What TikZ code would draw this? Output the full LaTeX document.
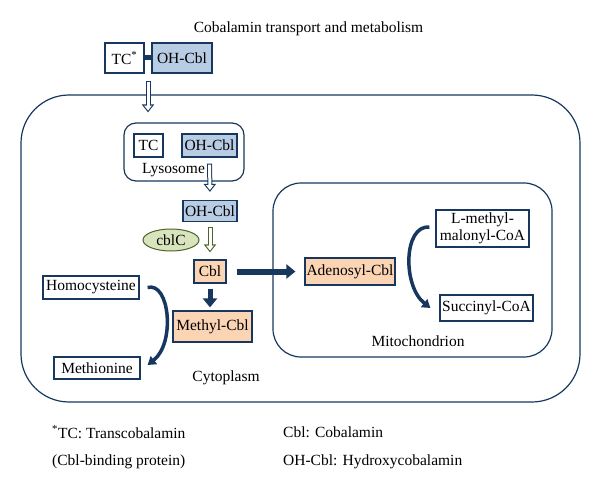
\documentclass[tikz,border=0pt]{standalone}
\usepackage{fontspec}
\setmainfont{Liberation Serif}
\usetikzlibrary{arrows.meta, shapes.geometric}
\definecolor{navy}{RGB}{23,55,94}
\definecolor{ohblue}{RGB}{184,204,228}
\definecolor{peach}{RGB}{251,212,180}
\definecolor{cblgreen}{RGB}{215,228,189}
\definecolor{oliveline}{RGB}{79,98,40}
\tikzstyle{whitebox} = [rectangle, draw=navy, line width=1.2pt, fill=white, inner sep=1pt, minimum height=23pt]
\tikzstyle{bluebox} = [whitebox, fill=ohblue]
\tikzstyle{peachbox} = [whitebox, fill=peach]
\tikzstyle{compartment} = [draw=navy, line width=1.2pt]
\tikzstyle{notetext} = [anchor=west, inner sep=0pt]
\tikzstyle{hollow} = [draw=navy, line width=5pt, -{Triangle[length=8pt,width=12pt]}, postaction={draw=white, line width=3pt, -{Triangle[length=5pt,width=7.5pt]}, shorten >=1.8pt, shorten <=1pt}]
\tikzstyle{greenhollow} = [hollow, draw=oliveline]
\tikzstyle{thickarrow} = [draw=navy, line width=6pt, -{Triangle[length=9pt,width=14pt]}]
\tikzstyle{bendarrow} = [draw=navy, line width=3.5pt, -{Triangle[length=8pt,width=10pt]}]

\begin{document}
\begin{tikzpicture}[x=1pt, y=1pt, font=\fontsize{15.5}{18}\selectfont]
    \useasboundingbox (0,0) rectangle (600,491);
    \node (title) at (308.5,462) {Cobalamin transport and metabolism};

    % bound cobalamin outside the cell
    \node (tcout) [whitebox, minimum width=39pt, minimum height=30pt] at (124.5,433) {TC\textsuperscript{*}};
    \node (ohout) [bluebox, minimum width=60pt, minimum height=30pt, node distance=57.5pt, right of=tcout] {OH-Cbl};
    \draw [draw=navy, line width=5pt] (tcout.east) -- (ohout.west);

    % cell and mitochondrion
    \draw [compartment, rounded corners=48pt] (21,89) rectangle (580,396);
    \draw [compartment, rounded corners=28pt] (273,134) rectangle (552,308);
    \node (cytolabel) at (226,113) {Cytoplasm};
    \node (mitolabel) at (418,150) {Mitochondrion};

    \node (lyso) [compartment, rounded corners=12pt, minimum width=120pt, minimum height=58pt] at (184,339) {};
    \node (tcin) [whitebox, minimum width=29pt] at (148.5,345.5) {TC};
    \node (ohin) [bluebox, minimum width=55pt, node distance=61pt, right of=tcin] {OH-Cbl};
    \node (lysolabel) at (173.5,321) {Lysosome};

    \draw [hollow] ([xshift=23.5pt, yshift=-7pt]tcout.south) -- ([xshift=-36pt, yshift=10pt]lyso.north);

    \node (oh) [bluebox, minimum width=54pt, minimum height=21pt] at (210,280) {OH-Cbl};
    \node (cblc) [ellipse, draw=oliveline, fill=cblgreen, line width=1pt, minimum width=56pt, minimum height=22pt, inner sep=0pt] at (171,251) {cblC};
    \node (cbl) [peachbox, minimum width=32pt, node distance=60.5pt, below of=oh] {Cbl};
    \node (adeno) [peachbox, minimum width=90pt, minimum height=27pt, node distance=140pt, right of=cbl] {Adenosyl-Cbl};
    \node (methyl) [peachbox, minimum width=79pt, minimum height=31pt, node distance=55pt, below of=cbl, xshift=2.5pt] {Methyl-Cbl};

    \draw [hollow] ([yshift=-6pt]ohin.south) -- ([yshift=8pt]oh.north);
    \draw [greenhollow] ([yshift=-5pt]oh.south) -- ([yshift=7pt]cbl.north);
    \draw [thickarrow] ([xshift=10pt]cbl.east) -- ([xshift=-9pt]adeno.west);
    \draw [thickarrow, line width=5pt] ([yshift=-5pt]cbl.south) -- ([xshift=-2.5pt, yshift=3pt]methyl.north);

    \node (homo) [whitebox, minimum width=96pt] at (91,203.5) {Homocysteine};
    \node (methio) [whitebox, minimum width=86pt, minimum height=22pt] at (97,123) {Methionine};
    \draw [bendarrow] ([xshift=8pt]homo.east) .. controls +(22,6) and +(28,22) .. ([xshift=7pt, yshift=3pt]methio.east);

    \node (lmm) [whitebox, minimum width=93pt, minimum height=37pt, align=center, font=\fontsize{15.5}{16.5}\selectfont] at (482.5,262.5) {L-methyl-\\malonyl-CoA};
    \node (succ) [whitebox, minimum width=93pt, minimum height=26pt, node distance=79.5pt, below of=lmm, xshift=4pt] {Succinyl-CoA};
    \draw [bendarrow] ([xshift=-6pt, yshift=1.5pt]lmm.west) .. controls +(-26,2) and +(-28,22) .. ([xshift=-9pt]succ.west);

    % footnotes
    \node (note1) [notetext] at (52,59) {\textsuperscript{*}TC: Transcobalamin};
    \node (note2) [notetext] at (52,29) {(Cbl-binding protein)};
    \node (note3) [notetext] at (283,59) {Cbl: Cobalamin};
    \node (note4) [notetext] at (283,29) {OH-Cbl: Hydroxycobalamin};
\end{tikzpicture}
\end{document}
